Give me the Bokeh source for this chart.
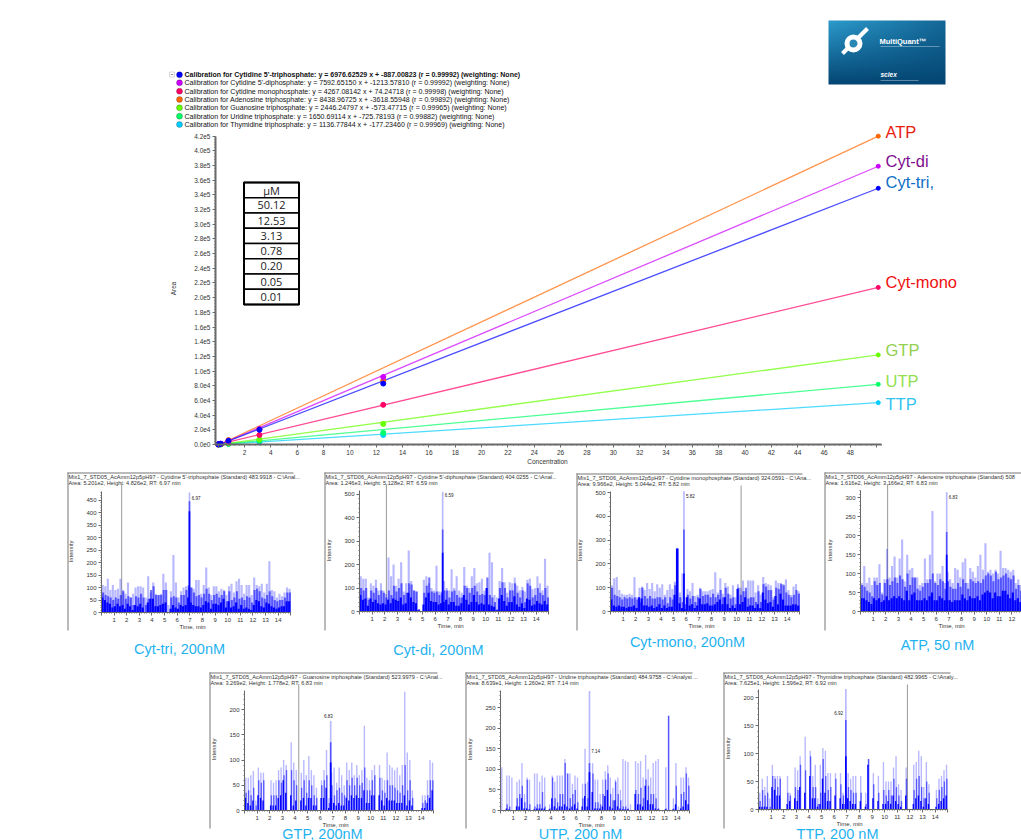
import numpy as np
from bokeh.core.properties import value
from bokeh.embed import file_html
from bokeh.layouts import column, row
from bokeh.models import (BoxAnnotation, CustomJSTickFormatter, Label, LinearAxis, Range1d,
                          SingleIntervalTicker, Spacer)
from bokeh.plotting import figure
from bokeh.resources import INLINE

# calibration curves
conc = [0.01, 0.05, 0.20, 0.78, 3.13, 12.53, 50.12]
fit_x = [0.1, 50.12]
tri_pts = [100, 400, 1000, 5000, 20000, 83000, 349000]
di_pts = [100, 400, 1100, 5000, 21000, 92000, 379000]
mono_pts = [100, 300, 900, 4000, 13000, 54000, 214000]
atp_pts = [100, 300, 1000, 6000, 21000, 87000, 420000]
gtp_pts = [50, 100, 300, 1500, 7000, 28000, 122000]
utp_pts = [30, 100, 200, 1000, 5000, 16000, 82000]
ttp_pts = [20, 60, 150, 700, 3000, 13000, 57000]
tri_fit = [0, 349000]
di_fit = [0, 379000]
mono_fit = [500, 214000]
atp_fit = [0, 420000]
gtp_fit = [0, 122000]
utp_fit = [0, 82000]
ttp_fit = [0, 57000]

series_names = ["Cyt-tri,", "Cyt-di", "Cyt-mono", "ATP", "GTP", "UTP", "TTP"]
series_colors = ["#0000ff", "#cc00ff", "#ff0066", "#ff6600", "#66ff00", "#00ff66", "#00ccff"]
label_colors = ["#0f6fc6", "#7f0f8f", "#f01010", "#e8200f", "#92d050", "#92e050", "#33c3f0"]
label_y = [181, 160, 281, 131, 349, 380, 403]
legend_lines = [
    "Calibration for Cytidine 5'-triphosphate: y = 6976.62529 x + -887.00823 (r = 0.99992)  (weighting: None)",
    "Calibration for Cytidine 5'-diphosphate: y = 7592.65150 x + -1213.57810 (r = 0.99992)  (weighting: None)",
    "Calibration for Cytidine monophosphate: y = 4267.08142 x + 74.24718 (r = 0.99998)  (weighting: None)",
    "Calibration for Adenosine triphosphate: y = 8438.96725 x + -3618.55948 (r = 0.99892)  (weighting: None)",
    "Calibration for Guanosine triphosphate: y = 2446.24797 x + -573.47715 (r = 0.99965)  (weighting: None)",
    "Calibration for Uridine triphosphate: y = 1650.69114 x + -725.78193 (r = 0.99882)  (weighting: None)",
    "Calibration for Thymidine triphosphate: y = 1136.77844 x + -177.23460 (r = 0.99969)  (weighting: None)",
]
table_rows = ["µM", "50.12", "12.53", "3.13", "0.78", "0.20", "0.05", "0.01"]

# chromatograms: heights in 0.2 min bins, three overplotted traces
tri_light = [110,105,135,90,110, 90,95,135,90,75, 120,60,75,100,105, 105,100,60,145,80, 120,75,70,75,155,
             120,30,85,230,120, 60,85,100,105,110, 100,95,130,130,75, 110,180,100,70,105, 105,85,95,90,70,
             105,115,80,125,135, 110,75,110,110,70, 140,110,105,115,80, 115,205,90,85,60, 75,65,80,100,95]
tri_mid = [80,70,65,60,50, 60,55,70,85,55, 65,60,30,65,60, 75,60,30,55,90, 105,70,70,70,90,
           90,0,60,65,60, 40,70,70,90,105, 100,80,65,70,60, 75,95,75,50,70, 75,60,70,85,45,
           85,50,60,85,55, 60,50,65,60,40, 90,95,85,60,55, 70,85,65,50,45, 50,50,60,80,80]
tri_dark = [60,50,40,35,20, 25,35,25,30,15, 35,25,10,30,25, 35,20,0,40,55, 55,25,25,30,35,
            40,0,15,30,20, 15,30,25,30,60, 40,30,25,25,20, 30,45,40,15,35, 35,30,40,55,20,
            45,20,25,40,15, 30,15,20,15,10, 30,50,45,25,20, 40,35,25,20,15, 20,25,25,45,45]
di_light = [150,140,140,60,120, 110,135,90,120,90, 75,230,150,200,110, 140,210,85,120,260, 130,90,85,10,0,
            135,150,120,100,90, 195,85,85,130,100, 90,180,100,150,90, 80,190,110,100,150, 185,120,125,140,90,
            100,250,210,70,60, 130,185,125,80,125, 120,145,110,90,105, 85,135,140,95,100, 150,120,90,225,110]
di_mid = [100,90,100,50,90, 80,100,70,90,80, 60,90,70,110,85, 100,120,70,80,120, 115,90,85,10,0,
          80,110,145,85,80, 85,70,80,90,90, 60,85,90,70,60, 60,110,100,80,100, 110,85,70,75,70,
          145,70,60,40,10, 100,125,100,60,90, 90,120,80,60,90, 40,120,110,60,70, 100,80,70,100,60]
di_dark = [70,50,55,25,55, 40,50,35,30,35, 30,50,35,55,50, 45,60,30,35,80, 60,40,35,5,0,
           30,60,80,45,40, 40,30,35,40,50, 30,40,40,25,25, 35,70,50,30,40, 70,40,30,35,30,
           100,30,25,20,5, 55,70,45,25,40, 40,65,30,20,35, 15,55,50,25,30, 45,35,30,45,30]
mono_light = [110,140,145,90,75, 70,70,75,70,145, 60,100,105,90,120, 95,120,85,115,100, 115,70,90,115,95,
              125,265,80,160,60, 95,85,120,65,70, 100,85,85,85,90, 95,165,80,140,75, 120,105,70,110,60,
              115,100,130,85,130, 130,130,80,110,70, 145,120,115,110,60, 130,120,120,115,135, 90,70,105,115,85]
mono_mid = [100,70,65,60,50, 60,55,60,55,60, 50,40,100,65,55, 65,55,55,60,60, 50,60,35,60,50,
            110,265,60,40,30, 70,55,65,40,60, 95,65,70,70,60, 75,60,70,90,60, 100,75,55,60,30,
            100,70,85,100,55, 60,60,40,85,40, 115,105,90,90,50, 100,95,115,110,80, 70,60,70,90,75]
mono_dark = [50,25,20,25,20, 20,15,20,20,25, 15,60,55,25,25, 20,25,15,20,30, 15,25,15,20,20,
             70,265,35,15,10, 60,25,30,15,25, 55,30,30,35,25, 25,30,40,50,30, 60,30,15,25,15,
             95,30,40,60,20, 25,25,15,30,15, 80,50,35,40,20, 65,30,75,50,25, 25,25,30,30,25]
atp_light = [75,120,75,90,70, 90,90,125,50,85, 165,90,120,145,90, 140,190,80,150,110, 115,90,90,70,75,
             140,85,150,265,80, 100,100,120,75,105, 85,75,115,110,90, 130,140,75,115,105, 90,120,150,110,180,
             105,110,100,110,100, 160,115,115,110,105, 110,75,85,70,75]
atp_mid = [70,65,55,50,40, 80,70,75,45,75, 85,70,80,90,75, 95,85,65,100,70, 90,90,60,55,65,
           75,75,85,100,75, 70,85,80,60,80, 65,60,60,75,65, 85,75,60,85,80, 75,80,75,85,95,
           100,95,80,105,85, 90,95,100,90,85, 95,60,70,55,60]
atp_dark = [35,35,30,25,20, 35,30,35,25,30, 40,30,35,40,35, 40,35,30,55,30, 45,50,30,30,30,
            35,30,40,50,30, 30,40,35,30,30, 30,25,30,30,30, 45,35,30,40,35, 35,40,30,45,50,
            55,50,35,50,40, 40,55,55,45,35, 50,30,35,25,25]
gtp_light = [65,65,70,78,20, 85,75,75,0,0, 60,55,60,80,85, 100,90,0,135,95, 80,0,75,100,70,
             108,80,70,45,0, 60,80,120,25,75, 85,55,85,70,50, 95,80,95,70,90, 70,80,168,65,60,
             80,90,0,90,65, 60,115,90,85,80, 85,70,90,235,115, 100,40,0,0,0, 30,30,60,100,95]
gtp_mid = [35,40,30,45,10, 60,55,60,0,0, 30,30,30,60,55, 70,80,0,80,60, 50,0,45,60,35,
           60,50,30,25,0, 50,60,70,15,50, 30,40,45,35,30, 60,50,65,50,65, 50,55,85,40,40,
           60,70,0,65,40, 35,60,50,50,45, 40,35,50,90,40, 60,25,0,0,0, 15,20,30,60,60]
gtp_dark = [25,15,10,20,0, 30,25,20,0,0, 10,10,10,25,30, 60,35,0,30,10, 20,0,20,25,10,
            25,25,10,10,0, 25,25,45,5,25, 15,10,15,10,10, 25,20,30,25,30, 25,25,40,15,15,
            30,30,0,30,20, 10,25,20,20,20, 15,15,15,30,10, 20,10,0,0,0, 5,5,15,25,40]
utp_light = [105,0,85,85,80, 0,70,75,115,40, 80,75,0,90,90, 70,85,80,0,15, 85,70,85,85,85,
             125,90,90,65,85, 80,0,65,150,70, 0,115,75,75,40, 75,95,110,80,55, 75,80,50,125,120,
             118,15,0,120,115, 120,80,135,100,80, 115,120,125,0,0, 105,230,0,30,115, 10,80,80,105,80]
utp_mid = [0,0,15,10,0, 0,30,40,60,20, 75,15,0,10,15, 15,45,10,0,5, 80,30,20,40,40,
           115,90,30,40,50, 20,0,30,65,30, 0,90,20,20,15, 40,75,90,40,25, 70,40,25,10,10,
           5,0,0,50,40, 55,30,75,60,40, 40,30,5,0,0, 5,230,0,5,60, 0,40,45,90,60]
utp_dark = [0,0,5,3,0, 0,10,10,30,5, 5,3,0,3,5, 5,5,5,0,3, 30,10,5,10,10,
            15,10,5,10,15, 5,0,10,35,10, 0,45,5,5,5, 10,35,50,10,5, 25,10,5,3,3,
            3,0,0,40,15, 15,10,60,25,15, 15,5,3,0,0, 3,0,0,3,15, 0,5,10,25,15]
ttp_light = [30,55,40,60,20, 80,60,60,60,0, 0,60,30,0,75, 70,95,0,130,0, 105,60,80,20,80,
             110,105,65,65,0, 65,0,65,30,60, 65,55,60,60,0, 60,0,30,90,0, 65,0,60,0,85,
             50,50,50,75,95, 45,35,0,75,0, 0,80,85,105,95, 40,85,45,0,0, 35,55,60,70,80]
ttp_mid = [15,35,25,30,5, 60,55,40,55,0, 0,30,25,0,40, 35,80,0,70,0, 95,40,40,10,30,
           90,60,35,40,0, 55,0,45,25,30, 40,35,30,30,0, 30,0,10,90,0, 45,0,30,0,35,
           25,35,25,55,40, 25,15,0,55,0, 0,35,55,60,40, 20,50,30,0,0, 20,35,40,50,55]
ttp_dark = [5,5,5,5,0, 40,35,25,25,0, 0,10,15,0,20, 15,40,0,30,0, 60,20,20,5,10,
            55,30,15,15,0, 25,0,20,10,10, 20,15,10,10,0, 15,0,5,80,0, 20,0,15,0,10,
            10,15,10,25,15, 10,5,0,25,0, 0,10,20,25,15, 5,20,10,0,0, 5,10,15,20,25]

# main peak of each trace: retention time, then height per trace
tri_peak = [6.97, 480, 445, 405]
di_peak = [6.59, 510, 350, 250]
mono_peak = [5.82, 505, 345, 160]
atp_peak = [6.83, 315, 210, 150]
gtp_peak = [6.83, 177, 135, 95]
utp_peak = [7.05, 290, 115, 93]
ttp_peak = [6.92, 215, 160, 95]

FONT = "Liberation Sans"
CAPTION = "#1fb2f0"
GREY = "#6a6a6a"


def canvas_label(p, x, y, text, size, color="#222222", style="normal", align="left", angle=0.0):
    p.add_layout(Label(x=x, y=y, x_units="canvas", y_units="canvas", text=text, text_font=FONT,
                       text_font_size=size, text_color=color, text_font_style=style,
                       text_align=align, text_baseline="middle", angle=angle))


def canvas_box(p, left, right, top, bottom, fill, line=None, radius=0):
    p.add_layout(BoxAnnotation(left=left, right=right, top=top, bottom=bottom, left_units="canvas",
                               right_units="canvas", top_units="canvas", bottom_units="canvas",
                               fill_color=fill, fill_alpha=1, line_color=line, line_width=0.8,
                               border_radius=radius, level="overlay"))


def style_axis(ax, size, width=1):
    ax.axis_line_color = GREY
    ax.axis_line_width = width
    ax.major_tick_line_color = GREY
    ax.minor_tick_line_color = GREY
    ax.major_tick_out = 3
    ax.major_tick_in = 0
    ax.minor_tick_out = 1
    ax.minor_tick_in = 0
    ax.major_label_text_font = FONT
    ax.major_label_text_font_size = size
    ax.major_label_text_color = "#333333"
    ax.major_label_standoff = 2


# ---- calibration plot, page area x 8-1021, y 8-468
def xd(px):
    return (px - 217.7) / 13.17


def yd(py):
    return (444 - py) * 1362.0


main = figure(width=1013, height=460, output_backend="svg", toolbar_location=None,
              x_range=Range1d(xd(8), xd(1021)), y_range=Range1d(yd(468), yd(8)),
              x_axis_type=None, y_axis_type=None, min_border=0, outline_line_color=None)
main.grid.visible = False

xax = LinearAxis(ticker=SingleIntervalTicker(interval=2, num_minor_ticks=5), bounds=(xd(215), 50.4),
                 major_label_overrides={0: "", 50: ""}, fixed_location=0)
yax = LinearAxis(ticker=SingleIntervalTicker(interval=20000, num_minor_ticks=5), bounds=(0, 420000),
                 formatter=CustomJSTickFormatter(code="return tick.toExponential(1).replace('+', '')"),
                 fixed_location=xd(215))
style_axis(xax, "6.5px", 2)
style_axis(yax, "6.5px", 2)
main.add_layout(xax, "below")
main.add_layout(yax, "left")

# logo panel
logo_h, logo_w = 64, 117
ramp = np.linspace(0, 1, logo_h)[:, None] * np.ones((logo_h, logo_w))
glow = np.clip(1 - np.linspace(0, 1, logo_w)[None, :] * 0.6, 0, 1)
r = (4 + 40 * ramp * glow).astype(np.uint32)
g = (70 + 85 * ramp * glow).astype(np.uint32)
b = (115 + 90 * ramp * glow).astype(np.uint32)
logo = (255 << 24) | (b << 16) | (g << 8) | r
logo = logo.astype(np.uint32)
main.image_rgba(image=[logo], x=xd(828), y=yd(84), dw=xd(945) - xd(828), dh=yd(20) - yd(84))
main.line([xd(842), xd(867)], [yd(53), yd(28)], line_color="white", line_width=4)
main.scatter([xd(853)], [yd(43)], size=13, fill_color="#2a88b5", line_color="white", line_width=5)
main.line([xd(880), xd(939)], [yd(46), yd(46)], line_color="white", line_alpha=0.35, line_width=1)
main.line([xd(880), xd(918)], [yd(80), yd(80)], line_color="white", line_alpha=0.35, line_width=1)
main.text([xd(879)], [yd(41)], text=["MultiQuant™"], text_color="white", text_font=value(FONT),
          text_font_size="7.5px", text_font_style="bold", text_baseline="middle")
main.text([xd(880)], [yd(74)], text=["sciex"], text_color="white", text_font=value(FONT),
          text_font_size="6.5px", text_font_style="bold italic", text_baseline="middle")

# concentration table
row_h = (yd(182) - yd(304)) / len(table_rows)
for i, label in enumerate(table_rows):
    top = yd(182) - i * row_h
    main.quad(left=[xd(243.5)], right=[xd(298.5)], top=[top], bottom=[top - row_h],
              fill_color="white", line_color="black", line_width=1.5)
    main.text([(xd(243.5) + xd(298.5)) / 2], [top - row_h / 2], text=[label], text_font=value("Open Sans"),
              text_font_size="11px", text_color="#222222", text_align="center", text_baseline="middle")
main.quad(left=[xd(243.5)], right=[xd(298.5)], top=[yd(182)], bottom=[yd(304)],
          fill_color=None, line_color="black", line_width=2)

all_pts = [tri_pts, di_pts, mono_pts, atp_pts, gtp_pts, utp_pts, ttp_pts]
all_fit = [tri_fit, di_fit, mono_fit, atp_fit, gtp_fit, utp_fit, ttp_fit]
for i in [6, 5, 4, 3, 2, 1, 0]:
    main.line(fit_x, all_fit[i], line_color=series_colors[i], line_width=1.3, line_alpha=0.7)
for i in [6, 5, 4, 3, 2, 1, 0]:
    main.scatter(conc[:-1], all_pts[i][:-1], size=5, color=series_colors[i])
    main.scatter(conc[-1:], all_pts[i][-1:], size=4, color=series_colors[i])
    main.text([xd(885)], [yd(label_y[i])], text=[series_names[i]], text_color=label_colors[i],
              text_font=value(FONT), text_font_size="16.5px", text_baseline="middle")

legend_y = [66.3, 74.3, 82.7, 91, 99.3, 107.7, 116]
canvas_box(main, 161, 166, 63.5, 68.5, "white", "#666666")
canvas_box(main, 162.3, 164.7, 65.8, 66.3, "#333333")
for i, text in enumerate(legend_lines):
    canvas_box(main, 168, 174, legend_y[i] - 3, legend_y[i] + 3, series_colors[i], "#111111", 3)
    canvas_label(main, 176, legend_y[i], text, "7px" if i == 0 else "7.05px", "#111111", "bold" if i == 0 else "normal")
canvas_label(main, 539, 452.5, "Concentration", "6.5px", "#333333", align="center")
canvas_label(main, 165, 280, "Area", "6.5px", "#333333", align="center", angle=np.pi / 2)


# ---- chromatogram panels
def panel(width, height, page_x, page_y, border, axis_x, zero_y, frame_top, px_per_unit, y_top, y_tick, bar_w,
          light, mid, dark, peak, title, sub, peak_text, peak_at, marker, caption, cap_x, cap_y):
    right = page_x + width
    left, top, edge, bottom = border
    fig = figure(width=width, height=height, output_backend="svg", toolbar_location=None,
                 x_range=Range1d((page_x - axis_x) / 12.62, (right - axis_x) / 12.62),
                 y_range=Range1d((zero_y - page_y - height) / px_per_unit, (zero_y - page_y) / px_per_unit),
                 x_axis_type=None, y_axis_type=None, min_border=0, outline_line_color=None)
    fig.grid.visible = False
    ax = LinearAxis(ticker=SingleIntervalTicker(interval=1, num_minor_ticks=5), bounds=(0, 15),
                    major_label_overrides={0: "", 15: ""}, fixed_location=0)
    ay = LinearAxis(ticker=SingleIntervalTicker(interval=y_tick, num_minor_ticks=5), bounds=(0, y_top),
                    fixed_location=0)
    style_axis(ax, "6px")
    style_axis(ay, "6px")
    fig.add_layout(ax, "below")
    fig.add_layout(ay, "left")
    canvas_box(fig, left - page_x, left - page_x + 1, top - page_y, bottom - page_y, "#777777")
    canvas_box(fig, left - page_x, edge - page_x, top - page_y, top - page_y + 1, "#777777")
    if marker is not None:
        fig.line([marker, marker], [0, (zero_y - frame_top) / px_per_unit], line_color="#999999", line_width=1)
    for trace, shift, alpha, k in [(light, 0.0, 0.28, 1), (mid, 0.03, 0.55, 2), (dark, -0.03, 1.0, 3)]:
        t = 0.1 + 0.2 * np.arange(len(trace)) + shift
        fig.vbar(x=t, top=trace, width=bar_w, color="#0000ff", alpha=alpha, line_color=None)
        fig.vbar(x=[peak[0]], top=[peak[k]], width=0.13, color="#0000ff", alpha=alpha, line_color=None)
    canvas_label(fig, left - page_x + 1, top - page_y + 4.5, title, "5.6px", "#333333")
    canvas_label(fig, left - page_x + 1, top - page_y + 10.5, sub, "5.6px", "#333333")
    canvas_label(fig, axis_x + 91 - page_x, zero_y + 14 - page_y, "Time, min", "6px", "#333333", align="center")
    canvas_label(fig, axis_x - 31 - page_x, zero_y - 61 - page_y, "Intensity", "5.8px",
                 "#333333", align="center", angle=np.pi / 2)
    fig.add_layout(Label(x=peak_at[0], y=peak_at[1], text=peak_text, text_font=FONT, text_font_size="4.5px",
                         text_color="#222222", text_baseline="middle"))
    canvas_label(fig, cap_x - page_x, cap_y - page_y, caption, "14.5px", CAPTION, align="center")
    return fig


p1 = panel(255, 197, 60, 468, (67, 472, 293, 630), 101, 612, 484, 0.25, 483, 50, 0.17,
           tri_light, tri_mid, tri_dark, tri_peak,
           "Mix1_7_STD05_AcAmm12p5pH97 - Cytidine 5'-triphosphate (Standard) 483.9918 - C:\\Anal...",
           "Area: 5.201e2, Height: 4.826e2, RT: 6.97 min", "6.97", (7.15, 460), 1.6,
           "Cyt-tri, 200nM", 179, 648)
p2 = panel(255, 197, 315, 468, (324, 472, 553, 630), 359, 611, 484, 0.2346, 517, 100, 0.17,
           di_light, di_mid, di_dark, di_peak,
           "Mix1_7_STD06_AcAmm12p5pH97 - Cytidine 5'-diphosphate (Standard) 404.0255 - C:\\Anal...",
           "Area: 1.246e3, Height: 5.128e2, RT: 6.59 min", "6.59", (6.75, 495), 2.13,
           "Cyt-di, 200nM", 438, 649)
p3 = panel(250, 197, 570, 468, (576, 473, 802, 630), 610, 611, 485, 0.238, 505, 100, 0.17,
           mono_light, mono_mid, mono_dark, mono_peak,
           "Mix1_7_STD06_AcAmm12p5pH97 - Cytidine monophosphate (Standard) 324.0591 - C:\\Ana...",
           "Area: 9.966e2, Height: 5.044e2, RT: 5.82 min", "5.82", (5.98, 485), 10.35,
           "Cyt-mono, 200nM", 687, 641)
p4 = panel(201, 197, 820, 468, (824, 472, 1021, 630), 860, 611, 484, 0.379, 320, 50, 0.17,
           atp_light, atp_mid, atp_dark, atp_peak,
           "Mix1_7_STD06_AcAmm12p5pH97 - Adenosine triphosphate (Standard) 508",
           "Area: 1.616e2, Height: 3.166e2, RT: 6.83 min", "6.83", (7.0, 302), 2.15,
           "ATP, 50 nM", 937, 644)
p5 = panel(255, 175, 205, 665, (209, 672, 437, 828), 244, 810, 684, 0.505, 237, 50, 0.11,
           gtp_light, gtp_mid, gtp_dark, gtp_peak,
           "Mix1_7_STD05_AcAmm12p5pH97 - Guanosine triphosphate (Standard) 523.9979 - C:\\Anal...",
           "Area: 3.269e2, Height: 1.778e2, RT: 6.83 min", "6.83", (6.3, 188), 4.3,
           "GTP, 200nM", 322, 833)
p6 = panel(255, 175, 460, 665, (465, 672, 692, 828), 500, 810, 684, 0.412, 291, 50, 0.11,
           utp_light, utp_mid, utp_dark, utp_peak,
           "Mix1_7_STD05_AcAmm12p5pH97 - Uridine triphosphate (Standard) 484.9758 - C:\\Analyst ...",
           "Area: 8.639e1, Height: 1.260e2, RT: 7.14 min", "7.14", (7.2, 145), None,
           "UTP, 200 nM", 580, 833)
p7 = panel(306, 175, 715, 665, (723, 672, 950, 828), 758, 809, 684, 0.56, 214, 50, 0.11,
           ttp_light, ttp_mid, ttp_dark, ttp_peak,
           "Mix1_7_STD06_AcAmm12p5pH97 - Thymidine triphosphate (Standard) 482.9965 - C:\\Analy...",
           "Area: 7.625e1, Height: 1.596e2, RT: 6.92 min", "6.92", (6.0, 172), 11.8,
           "TTP, 200 nM", 837, 833)

layout = column(main,
                row(Spacer(width=52, height=197), p1, p2, p3, p4, spacing=0),
                row(Spacer(width=197, height=175), p5, p6, p7, spacing=0),
                spacing=0, margin=(8, 0, 0, 8))

open("out.html", "w").write(file_html(layout, INLINE))
